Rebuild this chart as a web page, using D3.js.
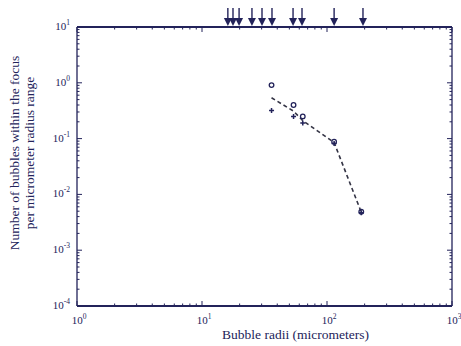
<!DOCTYPE html>
<html>
<head>
<meta charset="utf-8">
<script src="https://cdn.jsdelivr.net/npm/d3@7"></script>
<style>
  body { margin: 0; background: #fff; }
  svg { font-family: "Liberation Serif", "DejaVu Serif", serif; }
</style>
</head>
<body>
<div id="chart"></div>
<script>
// bubble radii (micrometers) of the sampled points
var radii = [36, 54, 64, 114, 188];
// circle series
var circleVals = [0.91, 0.40, 0.25, 0.088, 0.0049];
// plus series
var plusVals = [0.32, 0.25, 0.19, 0.082, 0.0047];
// dashed line through the points
var lineVals = [0.54, 0.31, 0.21, 0.085, 0.0048];
// arrow positions along the top axis
var arrowRadii = [16.1, 17.7, 19.8, 25.1, 30.2, 36.3, 53.5, 63.1, 114, 194];
// tick exponents
var xExps = [0, 1, 2, 3];
var yExps = [1, 0, -1, -2, -3, -4];

var W = 461, H = 346;
var margin = { top: 27, right: 9, bottom: 40, left: 77 };
var width = W - margin.left - margin.right;
var height = H - margin.top - margin.bottom;
var ink = "#23235a";

var svg = d3.select("#chart").append("svg")
  .attr("width", W).attr("height", H);
var g = svg.append("g")
  .attr("transform", "translate(" + margin.left + "," + margin.top + ")");

var x = d3.scaleLog().domain([1, 1000]).range([0, width]);
var y = d3.scaleLog().domain([1e-4, 10]).range([height, 0]);

// minor + major ticks for log axes
var yTicks = y.ticks();
var xTicks = x.ticks();
function isMajor(v) { return Math.abs(Math.log10(v) - Math.round(Math.log10(v))) < 1e-6; }

// left axis ticks (inward)
g.selectAll(".ytl").data(yTicks).enter().append("line")
  .attr("x1", 0).attr("x2", function (d) { return isMajor(d) ? 5 : 2.5; })
  .attr("y1", function (d) { return y(d); }).attr("y2", function (d) { return y(d); })
  .attr("stroke", ink).attr("stroke-width", 1);
// right axis ticks
g.selectAll(".ytr").data(yTicks).enter().append("line")
  .attr("x1", width).attr("x2", function (d) { return width - (isMajor(d) ? 5 : 2.5); })
  .attr("y1", function (d) { return y(d); }).attr("y2", function (d) { return y(d); })
  .attr("stroke", ink).attr("stroke-width", 1);
// bottom / top ticks
g.selectAll(".xtb").data(xTicks).enter().append("line")
  .attr("x1", function (d) { return x(d); }).attr("x2", function (d) { return x(d); })
  .attr("y1", height).attr("y2", function (d) { return height - (isMajor(d) ? 5 : 2.5); })
  .attr("stroke", ink).attr("stroke-width", 1);
g.selectAll(".xtt").data(xTicks).enter().append("line")
  .attr("x1", function (d) { return x(d); }).attr("x2", function (d) { return x(d); })
  .attr("y1", 0).attr("y2", function (d) { return isMajor(d) ? 5 : 2.5; })
  .attr("stroke", ink).attr("stroke-width", 1);

// frame
g.append("line").attr("x1", 0).attr("x2", width).attr("y1", 0).attr("y2", 0)
  .attr("stroke", ink).attr("stroke-width", 2);
g.append("line").attr("x1", 0).attr("x2", width).attr("y1", height).attr("y2", height)
  .attr("stroke", ink).attr("stroke-width", 2);
g.append("line").attr("x1", 0).attr("x2", 0).attr("y1", 0).attr("y2", height)
  .attr("stroke", ink).attr("stroke-width", 1.3);
g.append("line").attr("x1", width).attr("x2", width).attr("y1", 0).attr("y2", height)
  .attr("stroke", ink).attr("stroke-width", 1.3);

// y tick labels
var yl = g.selectAll(".ylab").data(yExps).enter().append("text")
  .attr("x", -7).attr("y", function (d) { return y(Math.pow(10, d)) + 3; })
  .attr("text-anchor", "end").attr("fill", ink).style("font-size", "11px");
yl.append("tspan").text("10");
yl.append("tspan").attr("dy", -5).style("font-size", "7.5px")
  .text(function (d) { return d < 0 ? "-" + (-d) : d; });

// x tick labels
var xl = g.selectAll(".xlab").data(xExps).enter().append("text")
  .attr("x", function (d) { return x(Math.pow(10, d)) + 2; })
  .attr("y", height + 18)
  .attr("text-anchor", "middle").attr("fill", ink).style("font-size", "11px");
xl.append("tspan").text("10");
xl.append("tspan").attr("dy", -5).style("font-size", "7.5px").text(function (d) { return d; });

// axis titles
svg.append("text")
  .attr("x", margin.left + x(56)).attr("y", 339)
  .attr("text-anchor", "middle").attr("fill", ink).style("font-size", "13.5px")
  .text("Bubble radii (micrometers)");
var yt = svg.append("text")
  .attr("transform", "translate(19," + 153 + ") rotate(-90)")
  .attr("text-anchor", "middle").attr("fill", ink).style("font-size", "13.5px");
yt.append("tspan").attr("x", 0).attr("y", 0).text("Number of bubbles within the focus");
yt.append("tspan").attr("x", 0).attr("y", 15).text("per micrometer radius range");

// dashed line
var line = d3.line()
  .x(function (d, i) { return x(radii[i]); })
  .y(function (d) { return y(d); });
g.append("path").datum(lineVals)
  .attr("d", line).attr("fill", "none")
  .attr("stroke", "#333344").attr("stroke-width", 1.6)
  .attr("stroke-dasharray", "4,3");

// circles
g.selectAll(".circ").data(circleVals).enter().append("circle")
  .attr("cx", function (d, i) { return x(radii[i]); })
  .attr("cy", function (d) { return y(d); })
  .attr("r", 2.3).attr("fill", "none").attr("stroke", ink).attr("stroke-width", 1.3);

// pluses
g.selectAll(".plus").data(plusVals).enter().append("path")
  .attr("d", function (d, i) {
    var cx = x(radii[i]), cy = y(d), s = 2.5;
    return "M" + (cx - s) + "," + cy + "H" + (cx + s) + "M" + cx + "," + (cy - s) + "V" + (cy + s);
  })
  .attr("stroke", ink).attr("stroke-width", 1.5);

// arrows above top axis
var arrows = g.selectAll(".arrow").data(arrowRadii).enter().append("g")
  .attr("transform", function (d) { return "translate(" + x(d) + ",0)"; });
arrows.append("line").attr("x1", 0).attr("x2", 0).attr("y1", -19).attr("y2", -4)
  .attr("stroke", ink).attr("stroke-width", 1.4);
arrows.append("path").attr("d", "M-4,-9L4,-9L0,-1Z").attr("fill", ink);
</script>
</body>
</html>
